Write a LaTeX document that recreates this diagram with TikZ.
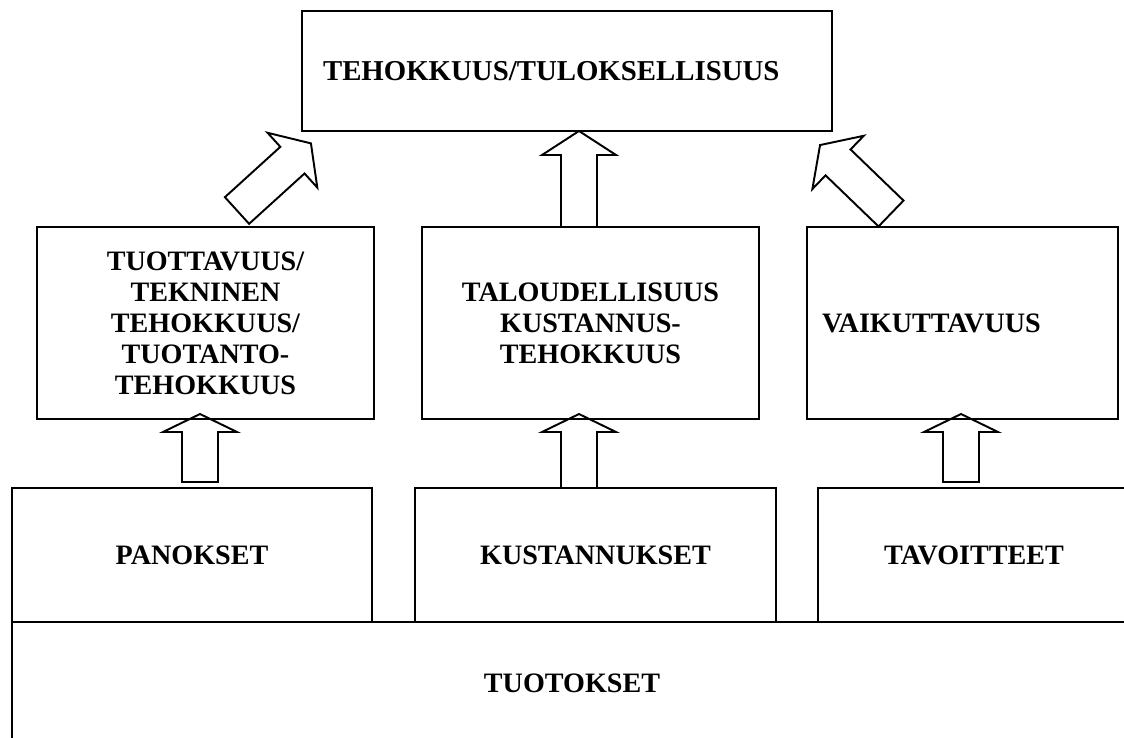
\documentclass[tikz,border=0pt]{standalone}
\usepackage{fontspec}
\setmainfont{Liberation Serif}
\usetikzlibrary{calc}

\tikzset{
  box/.style={draw, rectangle, line width=1.1pt, inner sep=0pt, align=center,
    font=\fontsize{16}{17.6}\selectfont\bfseries},
  blockline/.style={draw, line width=1.1pt, line join=miter},
}

% hollow block arrow from #2 to #3, #1 = head length (px)
\newcommand{\blockarrow}[3][18]{%
  \draw[blockline] let \p1=(#2), \p2=(#3),
      \n1={atan2(\y2-\y1,\x2-\x1)}, \n2={veclen(\x2-\x1,\y2-\y1)}
    in [shift={(\p1)}, rotate=\n1]
    (0pt,-10.243pt) -- ({\n2-#1*0.569055pt},-10.243pt)
    -- ({\n2-#1*0.569055pt},-21.055pt) -- (\n2,0pt)
    -- ({\n2-#1*0.569055pt},21.055pt) -- ({\n2-#1*0.569055pt},10.243pt)
    -- (0pt,10.243pt) -- cycle;}

\begin{document}
\begin{tikzpicture}[x=0.02cm,y=0.02cm]
  \useasboundingbox (0,0) rectangle (1124,-737);
  \clip (0,0) rectangle (1124,-737);

  % top
  \node[box, minimum width=10.6cm, minimum height=2.4cm, text width=9.76cm,
    inner xsep=0.42cm, align=left, font=\fontsize{16.4}{18}\selectfont\bfseries]
    (teh) at (567,-71) {TEHOKKUUS/TULOKSELLISUUS};

  % middle row
  \node[box, minimum width=6.74cm, minimum height=3.84cm] (tuo) at (205.5,-323)
    {TUOTTAVUUS/\\TEKNINEN\\TEHOKKUUS/\\TUOTANTO-\\TEHOKKUUS};
  \node[box, minimum width=6.74cm, minimum height=3.84cm] (tal) at (590.5,-323)
    {TALOUDELLISUUS\\KUSTANNUS-\\TEHOKKUUS};
  \node[box, minimum width=6.22cm, minimum height=3.84cm, text width=5.62cm,
    inner xsep=0.3cm, align=left] (vai) at (962.5,-323) {VAIKUTTAVUUS};

  % bottom row
  \node[box, minimum width=7.2cm, minimum height=2.68cm] (pan) at (192,-555) {PANOKSET};
  \node[box, minimum width=7.22cm, minimum height=2.68cm] (kus) at (595.5,-555) {KUSTANNUKSET};
  \node[box, minimum width=6.24cm, minimum height=2.68cm] (tav) at (974,-555) {TAVOITTEET};
  \node[box, minimum width=22.4cm, minimum height=2.44cm] (tuot) at (572,-683) {TUOTOKSET};

  % arrow ends
  \coordinate (panout) at (200,-482);
  \coordinate (tuoin)  at (200,-414);
  \coordinate (kusout) at (579,-488);
  \coordinate (talin)  at (579,-414);
  \coordinate (tavout) at (961,-482);
  \coordinate (vaiin)  at (961,-414);
  \coordinate (tuoout) at (237,-210.5);
  \coordinate (tehin1) at (311,-143.3);
  \coordinate (talout) at (579,-227);
  \coordinate (tehin2) at (579,-131);
  \coordinate (vaiout) at (891,-213.5);
  \coordinate (tehin3) at (820,-145);

  \blockarrow{panout}{tuoin}
  \blockarrow{kusout}{talin}
  \blockarrow{tavout}{vaiin}
  \blockarrow[25]{tuoout}{tehin1}
  \blockarrow[24]{talout}{tehin2}
  \blockarrow[25]{vaiout}{tehin3}
\end{tikzpicture}
\end{document}
